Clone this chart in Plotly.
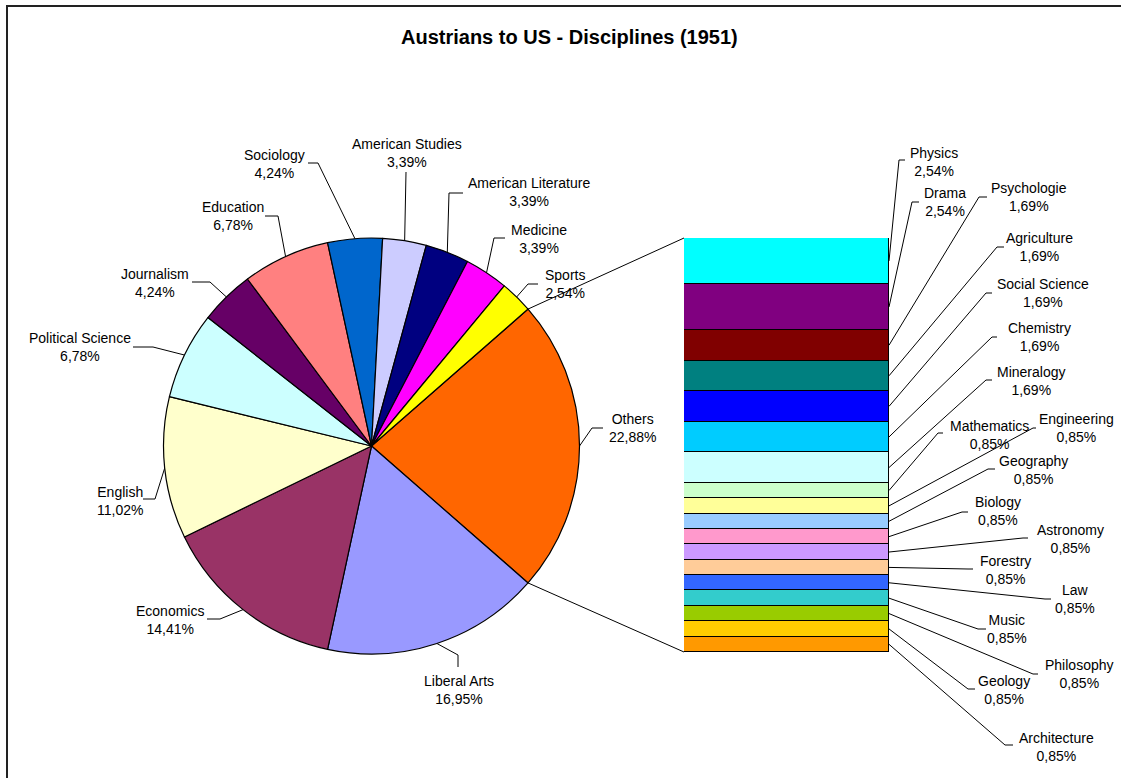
import math
import plotly.graph_objects as go

W, H = 1121, 778

# ---------------- data ----------------
pie_labels = ["Others", "Liberal Arts", "Economics", "English", "Political Science",
              "Journalism", "Education", "Sociology", "American Studies",
              "American Literature", "Medicine", "Sports"]
pie_values = [22.88, 16.95, 14.41, 11.02, 6.78, 4.24, 6.78, 4.24, 3.39, 3.39, 3.39, 2.54]
pie_colors = ["#FF6600", "#9999FF", "#993366", "#FFFFCC", "#CCFFFF", "#660066",
              "#FF8080", "#0066CC", "#CCCCFF", "#000080", "#FF00FF", "#FFFF00"]

bar_labels = ["Physics", "Drama", "Psychologie", "Agriculture", "Social Science",
              "Chemistry", "Mineralogy", "Mathematics", "Engineering", "Geography",
              "Biology", "Astronomy", "Forestry", "Law", "Music", "Philosophy",
              "Geology", "Architecture"]
bar_values = [2.54, 2.54, 1.69, 1.69, 1.69, 1.69, 1.69, 0.85, 0.85, 0.85,
              0.85, 0.85, 0.85, 0.85, 0.85, 0.85, 0.85, 0.85]
bar_colors = ["#00FFFF", "#800080", "#800000", "#008080", "#0000FF", "#00CCFF",
              "#CCFFFF", "#CCFFCC", "#FFFF99", "#99CCFF", "#FF99CC", "#CC99FF",
              "#FFCC99", "#3366FF", "#33CCCC", "#99CC00", "#FFCC00", "#FF9900"]

title_text = "Austrians to US - Disciplines (1951)"

# ---------------- layout geometry (pixels) ----------------
PIE_CX, PIE_CY, PIE_R = 371.5, 446.0, 208.0
BAR_X0, BAR_X1, BAR_Y0, BAR_Y1 = 684.0, 889.0, 238.0, 652.0

# label centre (x, y) and leader anchor (ax, bx, y) in pixels
label_pos = {
    "Others": (632, 428, 603, 592, 428),
    "Liberal Arts": (459, 690, None, None, None),
    "Economics": (170, 620, 207, 220, 619),
    "English": (120, 501, 143, 155, 499),
    "Political Science": (80, 347, 133, 153, 347),
    "Journalism": (155, 283, 192, 210, 282),
    "Education": (233, 216, 265, 278, 216),
    "Sociology": (274, 164, 308, 318, 163),
    "American Studies": (407, 153, None, None, None),
    "American Literature": (529, 192, 463, 449, 193),
    "Medicine": (539, 239, 505, 494, 238),
    "Sports": (565, 284, 538, 528, 284),
    "Physics": (934, 162, 905, 899, 160),
    "Drama": (945, 202, 919, 912, 202),
    "Psychologie": (1029, 197, 987, 979, 197),
    "Agriculture": (1039, 247, 1004, 997, 247),
    "Social Science": (1043, 293, 992, 986, 293),
    "Chemistry": (1039, 337, 997, 992, 337),
    "Mineralogy": (1031, 381, 992, 986, 380),
    "Mathematics": (990, 435, 943, 938, 433),
    "Engineering": (1076, 428, 1036, 1033, 428),
    "Geography": (1033, 470, 995, 988, 469),
    "Biology": (998, 511, 968, 962, 512),
    "Astronomy": (1070, 539, 1028, 1023, 538),
    "Forestry": (1005, 570, 973, 968, 569),
    "Law": (1075, 599, 1051, 1045, 599),
    "Music": (1007, 629, 986, 978, 629),
    "Philosophy": (1079, 674, 1038, 1033, 674),
    "Geology": (1004, 690, 975, 968, 689),
    "Architecture": (1056, 747, 1013, 1005, 745),
}
vertical_leaders = {"Liberal Arts": (458, 667, 655), "American Studies": (406, 172, 172)}

FONT = "Liberation Sans, Arial, sans-serif"


def px(x):
    return x / W


def py(y):
    return 1 - y / H


def fmt(v):
    return f"{v:.2f}".replace(".", ",") + "%"


total = sum(pie_values)
others_share = pie_values[0] / total
rotation = 90 - others_share * 360 / 2


def pie_point(frac):
    ang = math.radians(rotation + frac * 360)
    return PIE_CX + PIE_R * math.sin(ang), PIE_CY - PIE_R * math.cos(ang)


bar_total = sum(bar_values)


def bar_y(v):
    return BAR_Y1 - (v / bar_total) * (BAR_Y1 - BAR_Y0)


fig = go.Figure()

# pie
fig.add_trace(go.Pie(
    labels=pie_labels, values=pie_values, sort=False, direction="clockwise",
    rotation=rotation, textinfo="none", hoverinfo="label+percent",
    marker=dict(colors=pie_colors, line=dict(color="black", width=1.2)),
    domain=dict(x=[px(PIE_CX - PIE_R), px(PIE_CX + PIE_R)],
                y=[py(PIE_CY + PIE_R), py(PIE_CY - PIE_R)]),
    showlegend=False,
))

# stacked bar (bottom first)
for lab, val, col in reversed(list(zip(bar_labels, bar_values, bar_colors))):
    fig.add_trace(go.Bar(
        x=[0], y=[val], name=lab, width=1,
        marker=dict(color=col, line=dict(color="black", width=1.2)),
        showlegend=False, xaxis="x", yaxis="y",
    ))

# leader lines in pixel overlay axes
lx, ly = [], []
cum = 0.0
for lab, val in zip(pie_labels, pie_values):
    mid = (cum + val / 2) / total
    cum += val
    tx, ty = pie_point(mid)
    if lab in vertical_leaders:
        vx, vy0, vy1 = vertical_leaders[lab]
        lx += [vx, vx, tx, None]
        ly += [vy0, vy1, ty, None]
    else:
        _, _, ax, bx, ay = label_pos[lab]
        lx += [ax, bx, tx, None]
        ly += [ay, ay, ty, None]

# bar labels: stacked from top (Physics) downward
acc = bar_total
for lab, val in zip(bar_labels, bar_values):
    mid = acc - val / 2
    acc -= val
    ty = bar_y(mid)
    _, _, ax, bx, ay = label_pos[lab]
    lx += [ax, bx, BAR_X1, None]
    ly += [ay, ay, ty, None]

# connectors pie -> bar
p_top = pie_point(0)
p_bot = pie_point(others_share)
lx += [p_top[0], BAR_X0, None, p_bot[0], BAR_X0, None]
ly += [p_top[1], bar_y(bar_total), None, p_bot[1], bar_y(0), None]

fig.add_trace(go.Scatter(
    x=lx, y=ly, mode="lines", line=dict(color="black", width=1),
    xaxis="x2", yaxis="y2", hoverinfo="skip", showlegend=False,
))

# labels
annotations = []
for lab, val in list(zip(pie_labels, pie_values)) + list(zip(bar_labels, bar_values)):
    cx, cy = label_pos[lab][0], label_pos[lab][1]
    annotations.append(dict(
        x=px(cx), y=py(cy), xref="paper", yref="paper",
        text=f"{lab}<br>{fmt(val)}", showarrow=False,
        xanchor="center", yanchor="middle", align="center",
        font=dict(family=FONT, size=14, color="black"),
    ))
annotations.append(dict(
    x=px(569), y=py(37), xref="paper", yref="paper",
    text=f"<b>{title_text}</b>", showarrow=False,
    xanchor="center", yanchor="middle",
    font=dict(family=FONT, size=20, color="black"),
))

fig.update_layout(
    width=W, height=H,
    margin=dict(l=0, r=0, t=0, b=0),
    paper_bgcolor="white", plot_bgcolor="rgba(0,0,0,0)",
    barmode="stack", bargap=0,
    xaxis=dict(domain=[px(BAR_X0), px(BAR_X1)], range=[-0.5, 0.5], visible=False, fixedrange=True),
    yaxis=dict(domain=[py(BAR_Y1), py(BAR_Y0)], range=[0, bar_total], visible=False, fixedrange=True),
    xaxis2=dict(domain=[0, 1], range=[0, W], visible=False, anchor="y2", fixedrange=True),
    yaxis2=dict(domain=[0, 1], range=[H, 0], visible=False, anchor="x2", fixedrange=True),
    annotations=annotations,
    shapes=[dict(type="rect", xref="paper", yref="paper",
                 x0=px(7), y0=py(6), x1=px(1135), y1=py(790),
                 line=dict(color="#222222", width=2), fillcolor="rgba(0,0,0,0)")],
    font=dict(family=FONT),
)

fig.write_html(
    "out.html",
    config={"displayModeBar": False},
    post_script="document.body.style.margin='0';document.body.style.overflow='hidden';",
)
